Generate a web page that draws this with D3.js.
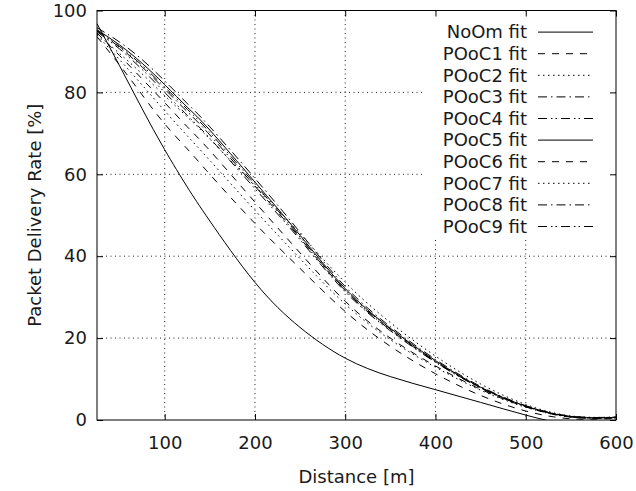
<!DOCTYPE html>
<html>

<head>
    <title>Packet Delivery Rate</title>
    <script src="https://d3js.org/d3.v7.min.js"></script>
    <style>
        body { margin: 0; background: #fff; }
        text { font-family: "DejaVu Sans", sans-serif; font-size: 18px; fill: #1a1a1a; }
    </style>
</head>

<body>
    <svg id="chart" width="636" height="491"></svg>

    <script>
        const distances = [25, 50, 75, 100, 125, 150, 200, 250, 300, 350, 400, 450, 500, 550, 600];

        const seriesNames = ["NoOm fit", "POoC1 fit", "POoC2 fit", "POoC3 fit", "POoC4 fit",
            "POoC5 fit", "POoC6 fit", "POoC7 fit", "POoC8 fit", "POoC9 fit"];

        const noOm  = [96.8, 86.5, 76.0, 66.0, 56.9, 48.6, 33.6, 22.6, 15.1, 10.6, 7.4, 4.3, 1.2, -1.2, -2.0];
        const pooc1 = [93.6, 86.7, 79.4, 72.3, 66.2, 60.0, 48.0, 37.0, 26.5, 18.0, 11.3, 6.0, 2.2, 0.3, 0.4];
        const pooc2 = [94.2, 89.5, 84.5, 79.2, 74.0, 68.6, 57.2, 45.5, 33.6, 23.8, 15.6, 8.8, 3.8, 1.0, 0.7];
        const pooc3 = [95.8, 92.3, 88.0, 82.8, 77.3, 71.6, 59.0, 45.8, 32.6, 22.8, 14.8, 8.2, 3.5, 0.9, 0.7];
        const pooc4 = [95.0, 91.2, 86.6, 81.3, 75.9, 70.2, 57.6, 44.7, 31.8, 22.2, 14.3, 7.9, 3.3, 0.8, 0.6];
        const pooc5 = [95.3, 91.6, 87.1, 81.9, 76.4, 70.8, 58.1, 45.1, 32.1, 22.4, 14.5, 8.0, 3.4, 0.8, 0.6];
        const pooc6 = [94.5, 89.0, 83.3, 77.5, 71.6, 65.8, 53.2, 40.8, 29.0, 20.0, 13.2, 7.5, 3.2, 0.7, 0.6];
        const pooc7 = [94.0, 88.0, 81.8, 75.5, 69.4, 63.4, 51.2, 39.4, 28.3, 19.6, 12.9, 7.3, 3.1, 0.7, 0.5];
        const pooc8 = [95.1, 91.0, 86.2, 80.8, 75.3, 69.6, 57.1, 44.4, 31.6, 22.0, 14.2, 7.9, 3.4, 0.9, 0.7];
        const pooc9 = [94.8, 90.6, 85.6, 80.0, 74.4, 68.8, 56.5, 44.0, 31.3, 21.8, 14.1, 7.8, 3.3, 0.8, 0.5];

        const xTicks = [100, 200, 300, 400, 500, 600];
        const yTicks = [0, 20, 40, 60, 80, 100];

        // gnuplot style line types: solid, dashed, dotted, dash-dot, dash-dot-dot
        const dashes = ["none", "7,7", "1.5,3.5", "9,4,1.5,4", "9,4,1.5,3,1.5,4"];

        const allSeries = [noOm, pooc1, pooc2, pooc3, pooc4, pooc5, pooc6, pooc7, pooc8, pooc9];
        const series = seriesNames.map((name, i) => ({
            name: name,
            dash: dashes[i % 5],
            values: distances.map((d, j) => ({ x: d, y: allSeries[i][j] }))
        }));

        const svg = d3.select("#chart");
        const margin = { top: 10.5, right: 20, bottom: 71, left: 97 };
        const width = svg.attr("width") - margin.left - margin.right;
        const height = svg.attr("height") - margin.top - margin.bottom;

        const chartArea = svg.append("g")
            .attr("transform", `translate(${margin.left},${margin.top})`);

        const xScale = d3.scaleLinear().domain([25, 600]).range([0, width]);
        const yScale = d3.scaleLinear().domain([0, 100]).range([height, 0]);

        svg.append("defs").append("clipPath").attr("id", "plot-clip")
            .append("rect").attr("width", width).attr("height", height);

        // grid
        chartArea.append("g")
            .selectAll("line")
            .data(xTicks.filter(t => t < 600))
            .join("line")
            .attr("x1", d => xScale(d)).attr("x2", d => xScale(d))
            .attr("y1", 0).attr("y2", height)
            .attr("stroke", "#222").attr("stroke-dasharray", "1,3.5");

        chartArea.append("g")
            .selectAll("line")
            .data(yTicks.filter(t => t > 0 && t < 100))
            .join("line")
            .attr("x1", 0).attr("x2", width)
            .attr("y1", d => yScale(d)).attr("y2", d => yScale(d))
            .attr("stroke", "#222").attr("stroke-dasharray", "1,3.5");

        // curves
        const line = d3.line()
            .x(d => xScale(d.x))
            .y(d => yScale(d.y))
            .curve(d3.curveNatural);

        chartArea.append("g")
            .attr("clip-path", "url(#plot-clip)")
            .selectAll("path")
            .data(series)
            .join("path")
            .attr("d", d => line(d.values))
            .attr("fill", "none")
            .attr("stroke", "#000")
            .attr("stroke-width", 1)
            .attr("stroke-dasharray", d => d.dash);

        // key (opaque box, no border)
        const keyLeft = 424 - margin.left;
        const keyBottom = 238 - margin.top;
        chartArea.append("rect")
            .attr("x", keyLeft).attr("y", 1)
            .attr("width", width - keyLeft - 1).attr("height", keyBottom)
            .attr("fill", "#fff");

        const key = chartArea.append("g").selectAll("g")
            .data(series)
            .join("g")
            .attr("transform", (d, i) => `translate(0,${21.6 + i * 21.6})`);

        key.append("text")
            .attr("x", 527 - margin.left)
            .attr("dy", "0.35em")
            .attr("text-anchor", "end")
            .text(d => d.name);

        key.append("line")
            .attr("x1", 538 - margin.left).attr("x2", 593 - margin.left)
            .attr("stroke", "#000")
            .attr("stroke-dasharray", d => d.dash);

        // axes, ticks mirrored inside
        const tickLen = 6;
        chartArea.append("g")
            .attr("transform", `translate(0,${height})`)
            .call(d3.axisBottom(xScale).tickValues(xTicks).tickSize(-tickLen).tickPadding(16.5))
            .call(g => g.select(".domain").remove());
        chartArea.append("g")
            .call(d3.axisTop(xScale).tickValues(xTicks).tickSize(-tickLen).tickFormat(""))
            .call(g => g.select(".domain").remove());
        chartArea.append("g")
            .call(d3.axisLeft(yScale).tickValues(yTicks).tickSize(-tickLen).tickPadding(10))
            .call(g => g.select(".domain").remove());
        chartArea.append("g")
            .attr("transform", `translate(${width},0)`)
            .call(d3.axisRight(yScale).tickValues(yTicks).tickSize(-tickLen).tickFormat(""))
            .call(g => g.select(".domain").remove());

        chartArea.selectAll(".tick text")
            .style("font-family", "'DejaVu Sans', sans-serif")
            .style("font-size", "18px")
            .style("fill", "#1a1a1a");

        chartArea.append("rect")
            .attr("width", width).attr("height", height)
            .attr("fill", "none").attr("stroke", "#000");

        svg.append("text")
            .attr("x", margin.left + width / 2)
            .attr("y", 482.5)
            .attr("text-anchor", "middle")
            .text("Distance [m]");

        svg.append("text")
            .attr("transform", `translate(35,${margin.top + height / 2}) rotate(-90)`)
            .attr("text-anchor", "middle")
            .attr("dy", "0.35em")
            .text("Packet Delivery Rate [%]");
    </script>
</body>

</html>
